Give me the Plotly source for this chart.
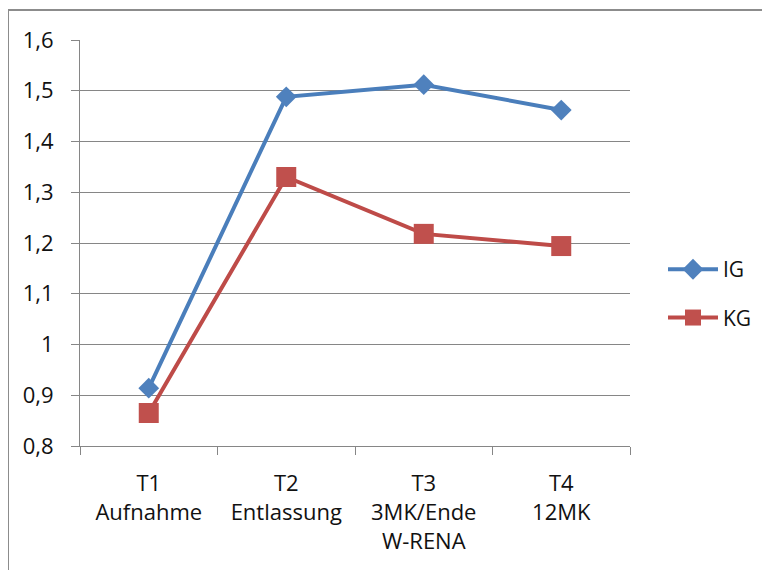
import plotly.graph_objects as go

categories = ["T1<br>Aufnahme", "T2<br>Entlassung", "T3<br>3MK/Ende<br>W-RENA", "T4<br>12MK"]
ig_values = [0.914, 1.488, 1.512, 1.462]
kg_values = [0.865, 1.330, 1.218, 1.194]
y_ticks = [0.8, 0.9, 1.0, 1.1, 1.2, 1.3, 1.4, 1.5, 1.6]
y_tick_labels = ["0,8", "0,9", "1", "1,1", "1,2", "1,3", "1,4", "1,5", "1,6"]

FONT = "Open Sans"
AXIS = "#868686"
TXT = "#111111"
BORDER = "#8C8C8C"

fig = go.Figure()
fig.add_trace(go.Scatter(
    x=categories, y=ig_values, name="IG", mode="lines+markers",
    line=dict(color="#4A7EBB", width=4),
    marker=dict(symbol="diamond", size=16, color="#4F81BD"),
    legendgroup="ig",
))
fig.add_trace(go.Scatter(
    x=categories, y=kg_values, name="KG", mode="lines+markers",
    line=dict(color="#BE4B48", width=4),
    marker=dict(symbol="square", size=20, color="#C0504D"),
    legendgroup="kg",
))

fig.update_layout(
    width=762, height=562,
    margin=dict(l=72, r=140, t=32, b=124, autoexpand=False),
    paper_bgcolor="white", plot_bgcolor="white",
    font=dict(family=FONT, size=21, color=TXT),
    showlegend=True,
    legend=dict(
        x=1.06, y=0.485, xanchor="left", yanchor="top",
        font=dict(family=FONT, size=21, color=TXT),
        itemwidth=50, tracegroupgap=18,
        bgcolor="rgba(0,0,0,0)",
    ),
    xaxis=dict(
        type="category", range=[-0.5, 3.5],
        showline=True, linecolor=AXIS, linewidth=1,
        ticks="outside", tickson="boundaries", ticklen=8, tickcolor=AXIS,
        showgrid=False, zeroline=False,
        ticklabelstandoff=18,
        tickfont=dict(family=FONT, size=22, color=TXT),
    ),
    yaxis=dict(
        range=[0.8, 1.6], tickvals=y_ticks, ticktext=y_tick_labels,
        showline=True, linecolor=AXIS, linewidth=1,
        ticks="outside", ticklen=8, tickcolor=AXIS,
        showgrid=True, gridcolor=AXIS, gridwidth=1, zeroline=False,
        ticklabelstandoff=13,
        tickfont=dict(family=FONT, size=22, color=TXT),
    ),
    shapes=[
        dict(type="line", xref="paper", yref="paper",
             x0=-0.1309, y0=1.0739, x1=1.5, y1=1.0739,
             line=dict(color=BORDER, width=2), layer="below"),
        dict(type="line", xref="paper", yref="paper",
             x0=-0.1309, y0=1.0739, x1=-0.1309, y1=-0.5,
             line=dict(color=BORDER, width=2), layer="below"),
    ],
)

fig.write_html("out.html")
